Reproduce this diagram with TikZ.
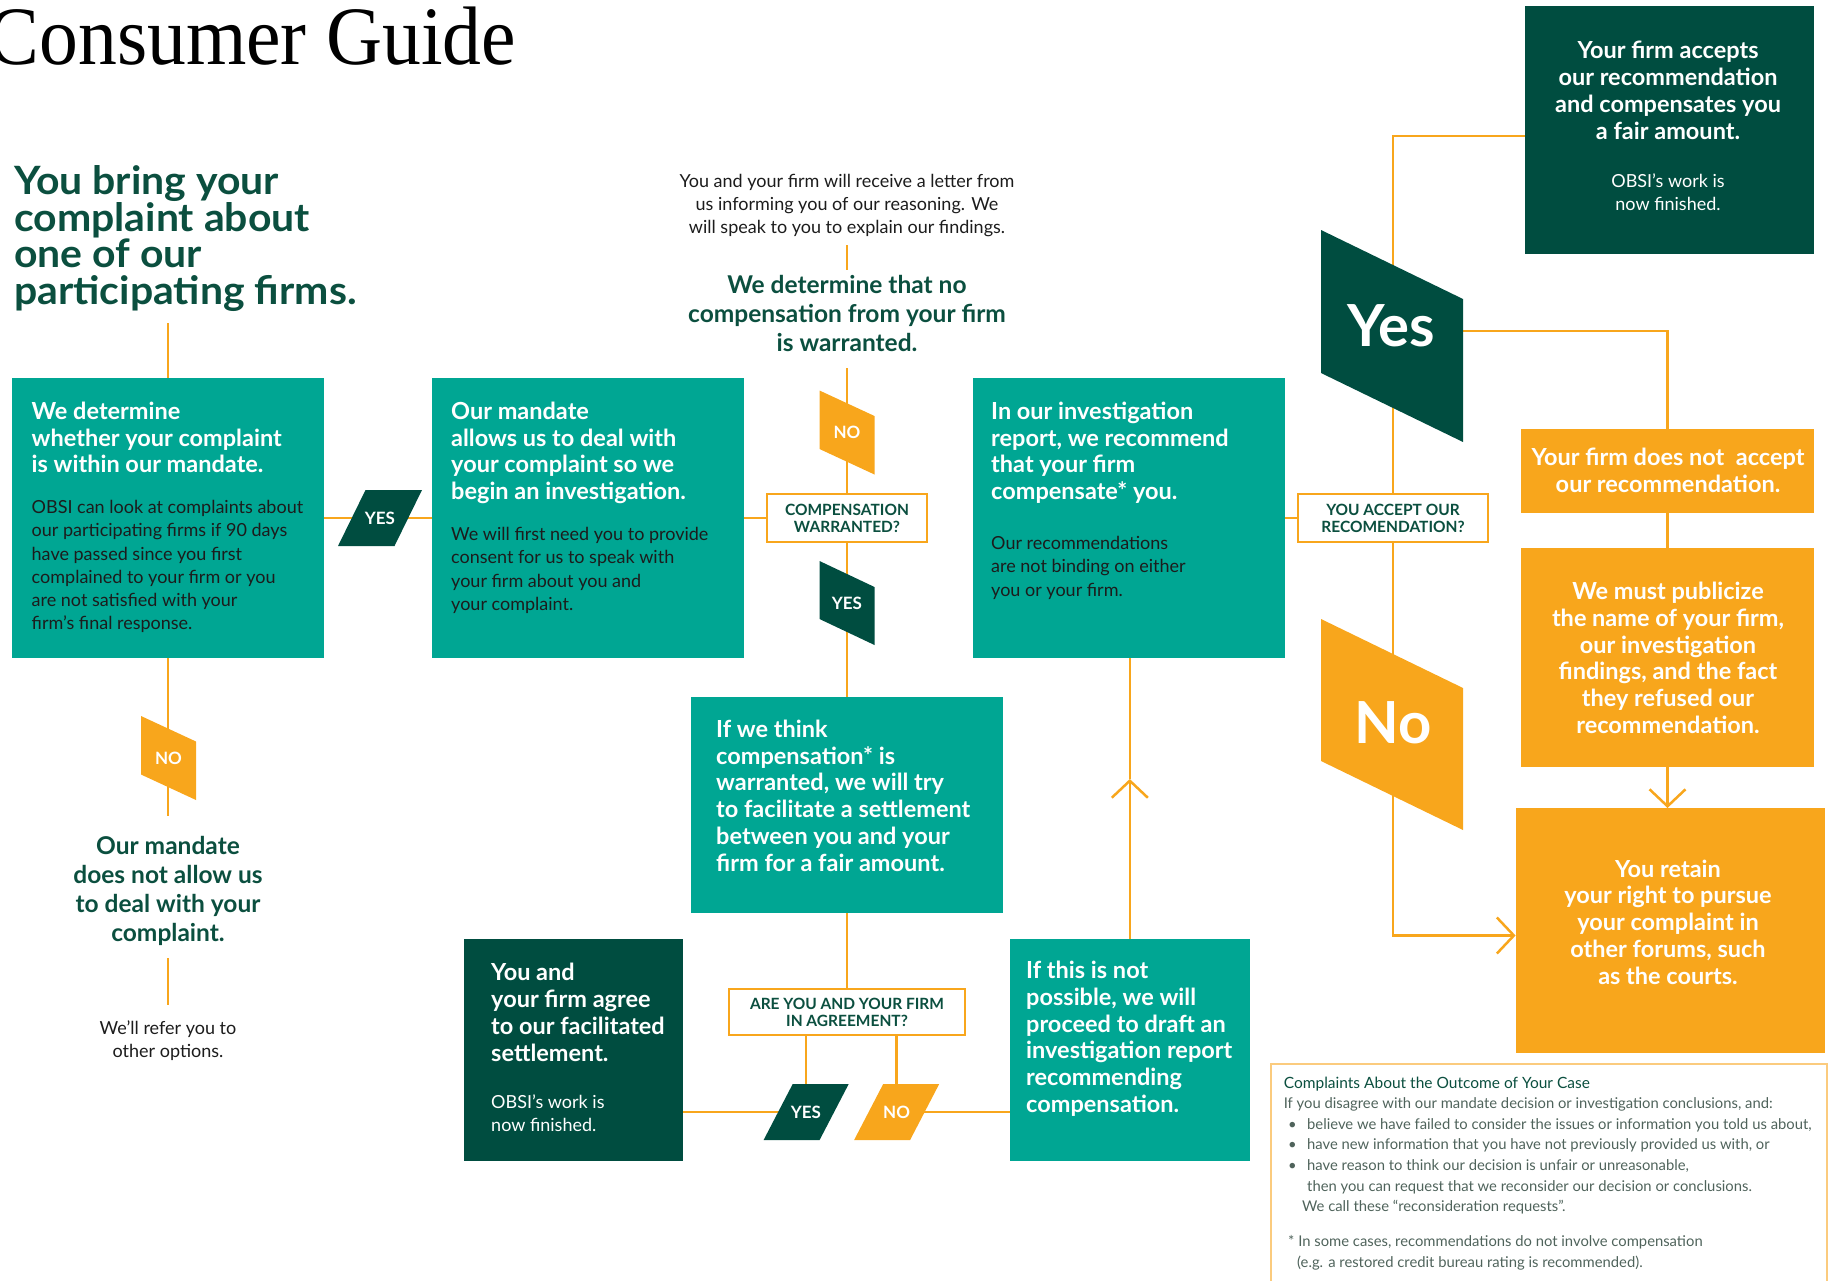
\documentclass[tikz,border=0pt]{standalone}
\usepackage{fontspec}
\setmainfont{Lato}
\newfontfamily\titlefont{Liberation Serif}
\usetikzlibrary{arrows.meta,calc}
\pgfdeclarelayer{bg}
\pgfsetlayers{bg,main}
\definecolor{tealC}{HTML}{00A693}
\definecolor{darkC}{HTML}{004D40}
\definecolor{orangeC}{HTML}{F8A61C}
\definecolor{headC}{HTML}{0B4F3F}
\definecolor{noteC}{HTML}{4F635B}
\definecolor{noteline}{HTML}{FBCB7E}
\definecolor{inkC}{HTML}{1C1C1C}
\tikzset{
  conn/.style={draw=orangeC, line width=2.5pt},
  barb/.style={-{Straight Barb[length=17pt,width=36pt]}},
  panel/.style={anchor=north west, inner sep=0pt, outer sep=0pt, draw=none},
  qbox/.style={draw=orangeC, line width=2.5pt, fill=white, inner sep=0pt, outer sep=0pt,
    minimum width=160pt, minimum height=48pt, align=center, text=headC,
    font=\fontsize{15.5}{17}\selectfont\bfseries},
  wb/.style={anchor=north west, inner sep=0pt, align=left, text=white,
    font=\fontsize{23.5}{26.8}\selectfont\bfseries},
  wbc/.style={anchor=north, inner sep=0pt, align=center, text=white,
    font=\fontsize{23.5}{26.8}\selectfont\bfseries},
  kr/.style={anchor=north west, inner sep=0pt, align=left, text=inkC,
    font=\fontsize{18}{23.3}\selectfont},
  wr/.style={anchor=north west, inner sep=0pt, align=left, text=white,
    font=\fontsize{18}{23.3}\selectfont},
  gb/.style={anchor=north, inner sep=0pt, align=center, text=headC,
    font=\fontsize{24.5}{29}\selectfont\bfseries},
  lab/.style={inner sep=0pt, text=white, font=\fontsize{17}{17}\selectfont\bfseries},
  big/.style={inner sep=0pt, text=white, font=\fontsize{58}{58}\selectfont\bfseries},
}
\begin{document}
\begin{tikzpicture}[x=1pt,y=-1pt]
\useasboundingbox (0,0) rectangle (1828,1280);
\clip (0,0) rectangle (1828,1280);

% title and heading
\node[anchor=base east, inner sep=0pt, xscale=0.935, text=black,
  font=\titlefont\fontsize{83}{90}\selectfont] (title) at (516,64) {Consumer Guide};
\node[anchor=north west, inner sep=0pt, align=left, text=headC, xscale=1.05,
  font=\fontsize{39}{36.6}\selectfont\bfseries] (head) at (14,165.5)
  {You bring your\\complaint about\\one of our\\participating firms.};

% panels
\node[panel, fill=tealC, minimum width=312pt, minimum height=280pt] (b1) at (12,378) {};
\node[panel, fill=tealC, minimum width=312pt, minimum height=280pt] (b2) at (432,378) {};
\node[panel, fill=tealC, minimum width=312pt, minimum height=280pt] (b3) at (973,378) {};
\node[panel, fill=tealC, minimum width=312pt, minimum height=216pt] (settle) at (691,697) {};
\node[panel, fill=darkC, minimum width=219pt, minimum height=222.5pt] (youagree) at (464,938.5) {};
\node[panel, fill=tealC, minimum width=240.4pt, minimum height=222.5pt] (notposs) at (1009.6,938.5) {};
\node[panel, fill=darkC, minimum width=289pt, minimum height=248pt] (firmacc) at (1525,6) {};
\node[panel, fill=orangeC, minimum width=293pt, minimum height=84pt] (notacc) at (1521,429) {};
\node[panel, fill=orangeC, minimum width=293pt, minimum height=219pt] (publ) at (1521,548) {};
\node[panel, fill=orangeC, minimum width=309pt, minimum height=245pt] (retain) at (1515.6,808) {};
\node[panel, draw=noteline, line width=1.5pt, minimum width=556pt, minimum height=240pt] (note) at (1271,1064) {};

% question boxes
\node[qbox] (comp) at (847,518) {COMPENSATION\\WARRANTED?};
\node[qbox, minimum width=190pt] (acc) at (1393,518) {YOU ACCEPT OUR\\RECOMENDATION?};
\node[qbox, minimum width=236pt, minimum height=46pt] (agree) at (847,1012) {ARE YOU AND YOUR FIRM\\IN AGREEMENT?};

% free connector ends
\coordinate (h0) at (168,323);
\coordinate (nl0) at (168,816);
\coordinate (nl1) at (168,958);
\coordinate (nl2) at (168,1005);
\coordinate (nc0) at (847,368);
\coordinate (lt0) at (847,245);
\coordinate (lt1) at (847,270);
\path (notposs.north) ++(0,-159.5) coordinate (upmid);

% decision flags
\fill[darkC] (338,546) -- (365.5,490) -- (422,490) -- (394.5,546) -- cycle;
\fill[orangeC] (141,716) -- (196,741.5) -- (196,800) -- (141,774.5) -- cycle;
\fill[orangeC] (819.5,390.5) -- (874.5,416) -- (874.5,474.5) -- (819.5,449) -- cycle;
\fill[darkC] (819.5,561) -- (874.5,587) -- (874.5,645) -- (819.5,619) -- cycle;
\fill[darkC] (763.6,1140) -- (792.7,1084) -- (848.7,1084) -- (819.6,1140) -- cycle;
\fill[orangeC] (854.1,1140) -- (883.2,1084) -- (939.2,1084) -- (910.1,1140) -- cycle;
\fill[darkC] (1321,230) -- (1463,299) -- (1463,442) -- (1321,373) -- cycle;
\fill[orangeC] (1321,619) -- (1463,688) -- (1463,830) -- (1321,761) -- cycle;

\node[lab] (y1) at (380,518) {YES};
\node[lab] (nl) at (168.5,758) {NO};
\node[lab] (nc) at (847,432.5) {NO};
\node[lab] (yc) at (847,603) {YES};
\node[lab] (y2) at (806,1112) {YES};
\node[lab] (n2) at (896.6,1112) {NO};
\node[big] (yes3) at (1391,326) {Yes};
\node[big] (no3) at (1393,723) {No};

% texts in panels
\node[wb] (b1a) at (31.5,401.7) {We determine\\whether your complaint\\is within our mandate.};
\node[kr] (b1b) at (31.5,500) {OBSI can look at complaints about\\our participating firms if 90 days\\have passed since you first\\complained to your firm or you\\are not satisfied with your\\firm’s final response.};
\node[wb] (b2a) at (451,401.7) {Our mandate\\allows us to deal with\\your complaint so we\\begin an investigation.};
\node[kr] (b2b) at (451,527.2) {We will first need you to provide\\consent for us to speak with\\your firm about you and\\your complaint.};
\node[wb] (b3a) at (991,401.7) {In our investigation\\report, we recommend\\that your firm\\compensate* you.};
\node[kr] (b3b) at (991,536.2) {Our recommendations\\are not binding on either\\you or your firm.};
\node[wb] (sta) at (716,719.6) {If we think\\compensation* is\\warranted, we will try\\to facilitate a settlement\\between you and your\\firm for a fair amount.};
\node[wb] (yaa) at (491,963.3) {You and\\your firm agree\\to our facilitated\\settlement.};
\node[wr] (yab) at (491,1094.7) {OBSI’s work is\\now finished.};
\node[wb] (npa) at (1026,960.8) {If this is not\\possible, we will\\proceed to draft an\\investigation report\\recommending\\compensation.};
\node[wbc] (faa) at (1668,41.1) {Your firm accepts\\our recommendation\\and compensates you\\a fair amount.};
\node[wr, anchor=north, align=center] (fab) at (1668,173.7) {OBSI’s work is\\now finished.};
\node[wbc] (naa) at (1668,447.8) {Your firm does not\ \ accept\\our recommendation.};
\node[wbc] (pba) at (1668,581.8) {We must publicize\\the name of your firm,\\our investigation\\findings, and the fact\\they refused our\\recommendation.};
\node[wbc] (rta) at (1668,859.5) {You retain\\your right to pursue\\your complaint in\\other forums, such\\as the courts.};

% free texts
\node[kr, anchor=north, align=center] (letter) at (847,173.7) {You and your firm will receive a letter from\\us informing you of our reasoning. We\\will speak to you to explain our findings.};
\node[gb] (nocomp) at (847,275) {We determine that no\\compensation from your firm\\is warranted.};
\node[gb] (mandno) at (168,836) {Our mandate\\does not allow us\\to deal with your\\complaint.};
\node[kr, anchor=north, align=center] (refer) at (168,1020.2) {We’ll refer you to\\other options.};

% note text
\node[anchor=north west, inner sep=0pt, align=left, text=noteC,
  font=\fontsize{14.8}{20.6}\selectfont] (notet) at (1283.6,1076.5)
  {{\color{headC}\fontsize{15.5}{20.6}\selectfont Complaints About the Outcome of Your Case}\\
   If you disagree with our mandate decision or investigation conclusions, and:\\
   \hspace*{4.4pt}\makebox[19pt][l]{•}believe we have failed to consider the issues or information you told us about,\\
   \hspace*{4.4pt}\makebox[19pt][l]{•}have new information that you have not previously provided us with, or\\
   \hspace*{4.4pt}\makebox[19pt][l]{•}have reason to think our decision is unfair or unreasonable,\\
   \hspace*{23.4pt}then you can request that we reconsider our decision or conclusions.\\
   \hspace*{18.4pt}We call these “reconsideration requests”.\\[14.5pt]
   \hspace*{4.4pt}* In some cases, recommendations do not involve compensation\\
   \hspace*{13.4pt}(e.g. a restored credit bureau rating is recommended).};

% connectors
\begin{pgfonlayer}{bg}
\draw[conn] (h0) -- (b1.north);
\draw[conn] (b1.south) -- (nl0);
\draw[conn] (nl1) -- (nl2);
\draw[conn] (b1) -- (b2);
\draw[conn] (b2) -- (comp);
\draw[conn] (comp.north) -- (nc0);
\draw[conn] (lt0) -- (lt1);
\draw[conn] (comp.south) -- (settle.north);
\draw[conn] (settle.south) -- (agree.north);
\draw[conn] (agree.south -| y2) -- (y2);
\draw[conn] (agree.south -| n2) -- (n2);
\draw[conn] (youagree.east |- y2) -- (y2);
\draw[conn] (n2) -- (n2 -| notposs.west);
\draw[conn, barb] (notposs.north) -- (upmid);
\draw[conn] (upmid) -- (upmid |- b3.south);
\draw[conn] (b3) -- (acc);
\draw[conn] (acc.north) |- ([yshift=-6pt]firmacc.west);
\draw[conn, barb] (acc.south) |- ([yshift=-5pt]retain.west);
\draw[conn] ([yshift=-5pt]yes3.center) -| (notacc.north);
\draw[conn] (notacc) -- (publ);
\draw[conn, barb] (publ.south) -- (publ.south |- retain.north);
\end{pgfonlayer}
\end{tikzpicture}
\end{document}
